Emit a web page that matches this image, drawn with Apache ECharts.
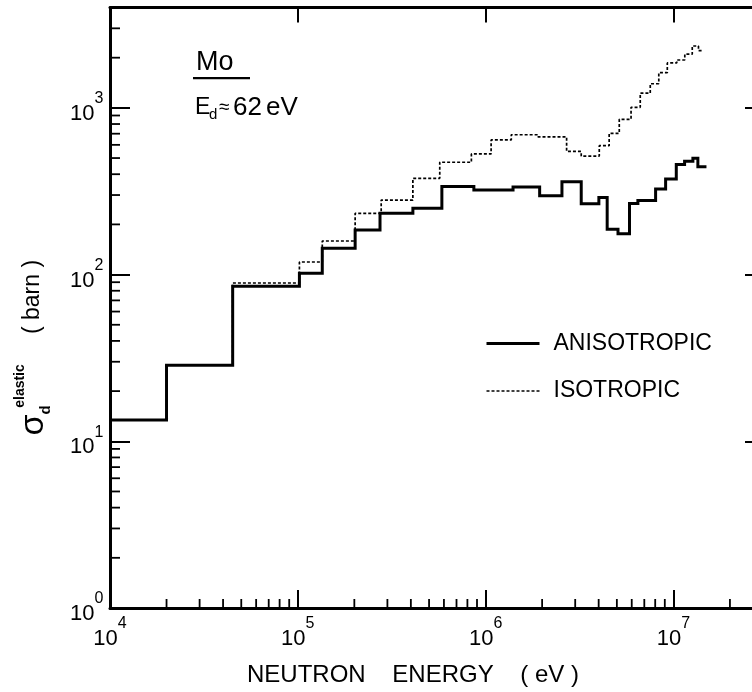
<!DOCTYPE html>
<html><head><meta charset="utf-8">
<script src="https://cdn.jsdelivr.net/npm/echarts@6/dist/echarts.min.js"></script>
<style>html,body{margin:0;padding:0;background:#fff}#c{width:752px;height:692px}</style>
</head><body><div id="c"></div>
<script>
// ---- data (bin edges in eV, cross section in barn) ----
const anisoEdges  = [1e4, 2e4, 4.5e4, 1.02e5, 1.35e5, 2.02e5, 2.74e5, 4.1e5, 5.85e5, 8.66e5, 1.4e6, 1.94e6, 2.55e6, 3.23e6, 4.01e6, 4.44e6, 5.07e6, 5.84e6, 6.47e6, 8.04e6, 9.09e6, 1.036e7, 1.147e7, 1.27e7, 1.35e7, 1.5e7];
const anisoValues = [13.4, 28.6, 85, 102, 144, 185, 233, 250, 337, 322, 335, 297, 360, 266, 290, 187, 176, 267, 278, 326, 375, 457, 479, 499, 444];
const isoEdges    = [1e4, 2e4, 4.5e4, 1.02e5, 1.35e5, 2.02e5, 2.78e5, 4.1e5, 5.7e5, 8.4e5, 1.07e6, 1.37e6, 1.9e6, 2.7e6, 3.23e6, 4.03e6, 4.55e6, 5.15e6, 5.95e6, 6.66e6, 7.53e6, 8.36e6, 9.28e6, 1.042e7, 1.15e7, 1.26e7, 1.36e7, 1.43e7];
const isoValues   = [13.4, 28.6, 89, 119, 159, 233, 280, 378, 472, 529, 642, 690, 670, 548, 514, 593, 704, 854, 1008, 1225, 1395, 1626, 1860, 1937, 2100, 2351, 2205];
const seriesNames = ['ANISOTROPIC', 'ISOTROPIC'];
const xDecades = [4, 5, 6, 7];      // tick labels 10^4 ... 10^7
const yDecades = [0, 1, 2, 3];      // tick labels 10^0 ... 10^3
const xRange = [1e4, 3e7];
const yRange = [1, 4000];

const FONT = "'Liberation Sans', Arial, sans-serif";

function stepData(edges, vals) {
  return edges.map((e, i) => [e, vals[Math.min(i, vals.length - 1)]]);
}
function minorTicks(lo, hi) {
  const out = [];
  for (let d = Math.floor(Math.log10(lo)); d <= Math.ceil(Math.log10(hi)); d++) {
    for (let m = 2; m <= 9; m++) {
      const v = m * Math.pow(10, d);
      if (v > lo && v < hi) out.push(v);
    }
  }
  return out;
}
const xMinor = minorTicks(xRange[0], xRange[1]).map(v => [v, yRange[0]]);
const yMinor = minorTicks(yRange[0], yRange[1]).map(v => [xRange[0], v]);

function powLabel(decades) {
  return function (val) {
    const l = Math.log10(val);
    const e = Math.round(l);
    if (Math.abs(l - e) > 1e-6 || decades.indexOf(e) < 0) return '';
    return '{b|10}{s|' + e + '}';
  };
}
const richPow = {
  b: { fontSize: 22, fontFamily: FONT, color: '#000', lineHeight: 34, verticalAlign: 'bottom' },
  s: { fontSize: 16, fontFamily: FONT, color: '#000', lineHeight: 18, verticalAlign: 'top' }
};

const chart = echarts.init(document.getElementById('c'), null, { renderer: 'canvas' });
const axisLine = { show: true, onZero: false, lineStyle: { color: '#000', width: 3 } };

function txt(x, y, s, size, extra) {
  return { type: 'text', x: x, y: y, silent: true,
    style: Object.assign({ text: s, fontSize: size, fontFamily: FONT, fill: '#000', align: 'left', verticalAlign: 'middle' }, extra || {}) };
}

const option = {
  animation: false,
  backgroundColor: '#fff',
  grid: { left: 110, right: -11, top: 7.5, bottom: 84, containLabel: false, outerBoundsMode: 'none' },
  xAxis: [
    {
      type: 'log', logBase: 10, min: xRange[0], max: xRange[1], interval: 1, position: 'bottom',
      axisLine: axisLine,
      axisTick: { show: true, inside: true, length: 18, lineStyle: { color: '#000', width: 2 } },
      axisLabel: { show: true, margin: 8, formatter: powLabel(xDecades), rich: richPow },
      splitLine: { show: false },
      name: 'NEUTRON    ENERGY    ( eV )', nameLocation: 'middle', nameGap: 55,
      nameTextStyle: { fontSize: 24, fontFamily: FONT, color: '#000', lineHeight: 24, padding: [0, 47, 0, 0] }
    },
    {
      type: 'log', logBase: 10, min: xRange[0], max: xRange[1], interval: 1, position: 'top',
      axisLine: axisLine,
      axisTick: { show: true, inside: true, length: 15, lineStyle: { color: '#000', width: 2 } },
      axisLabel: { show: false }, splitLine: { show: false }
    }
  ],
  yAxis: [
    {
      type: 'log', logBase: 10, min: yRange[0], max: yRange[1], interval: 1, position: 'left',
      axisLine: axisLine,
      axisTick: { show: true, inside: true, length: 20, lineStyle: { color: '#000', width: 2 } },
      axisLabel: { show: true, margin: 40, align: 'left', formatter: powLabel(yDecades), rich: richPow },
      splitLine: { show: false }
    },
    {
      type: 'log', logBase: 10, min: yRange[0], max: yRange[1], interval: 1, position: 'right',
      axisLine: axisLine,
      axisTick: { show: true, inside: true, length: 18, lineStyle: { color: '#000', width: 2 } },
      axisLabel: { show: false }, splitLine: { show: false }
    }
  ],
  legend: {
    left: 485, top: 329.5, orient: 'vertical', padding: 0, itemWidth: 53, itemHeight: 14, itemGap: 19.5,
    selectedMode: false,
    textStyle: { fontSize: 23, fontFamily: FONT, color: '#000', lineHeight: 28, padding: [0, 0, 0, 9] },
    data: [
      { name: seriesNames[0], lineStyle: { width: 3, color: '#000', type: 'solid' }, itemStyle: { opacity: 0, color: 'rgba(0,0,0,0)', borderWidth: 0 } },
      { name: seriesNames[1], lineStyle: { width: 1.6, color: '#000', type: [3, 2] }, itemStyle: { opacity: 0, color: 'rgba(0,0,0,0)', borderWidth: 0 } }
    ]
  },
  series: [
    {
      name: seriesNames[0], type: 'line', step: 'end', symbol: 'none', showSymbol: false,
      data: stepData(anisoEdges, anisoValues),
      lineStyle: { color: '#000', width: 3, join: 'miter', cap: 'butt' }, itemStyle: { color: '#000' }, z: 3
    },
    {
      name: seriesNames[1], type: 'line', step: 'end', symbol: 'none', showSymbol: false,
      data: stepData(isoEdges, isoValues),
      lineStyle: { color: '#000', width: 1.7, type: [3, 2] }, itemStyle: { color: '#000' }, z: 2
    },
    {
      type: 'custom', silent: true, clip: false, data: xMinor,
      renderItem: function (params, api) {
        const p = api.coord([api.value(0), api.value(1)]);
        return { type: 'line', shape: { x1: p[0], y1: p[1], x2: p[0], y2: p[1] - 9 }, style: { stroke: '#000', lineWidth: 1.8 } };
      }
    },
    {
      type: 'custom', silent: true, clip: false, data: yMinor,
      renderItem: function (params, api) {
        const p = api.coord([api.value(0), api.value(1)]);
        return { type: 'line', shape: { x1: p[0], y1: p[1], x2: p[0] + 10, y2: p[1] }, style: { stroke: '#000', lineWidth: 1.8 } };
      }
    }
  ],
  graphic: [
    txt(196, 63, 'Mo', 27),
    { type: 'rect', shape: { x: 193, y: 77, width: 57, height: 2.2 }, style: { fill: '#000' } },
    txt(195, 108, 'E', 23),
    txt(209, 115, 'd', 15),
    txt(219, 108, '≈', 19),
    txt(233, 108, '62', 26),
    txt(266, 108, 'eV', 26),
    { type: 'text', x: 34, y: 425, rotation: Math.PI / 2,
      style: { text: 'σ', fontSize: 34, fontFamily: FONT, fill: '#000', align: 'center', verticalAlign: 'middle' } },
    { type: 'text', x: 20, y: 386, rotation: Math.PI / 2,
      style: { text: 'elastic', fontSize: 14, fontWeight: 'bold', fontFamily: FONT, fill: '#000', align: 'center', verticalAlign: 'middle' } },
    { type: 'text', x: 46, y: 410, rotation: Math.PI / 2,
      style: { text: 'd', fontSize: 15, fontWeight: 'bold', fontFamily: FONT, fill: '#000', align: 'center', verticalAlign: 'middle' } },
    { type: 'text', x: 33, y: 297, rotation: Math.PI / 2,
      style: { text: '( barn )', fontSize: 23, fontFamily: FONT, fill: '#000', align: 'center', verticalAlign: 'middle' } }
  ]
};
chart.setOption(option);
</script>
</body></html>
